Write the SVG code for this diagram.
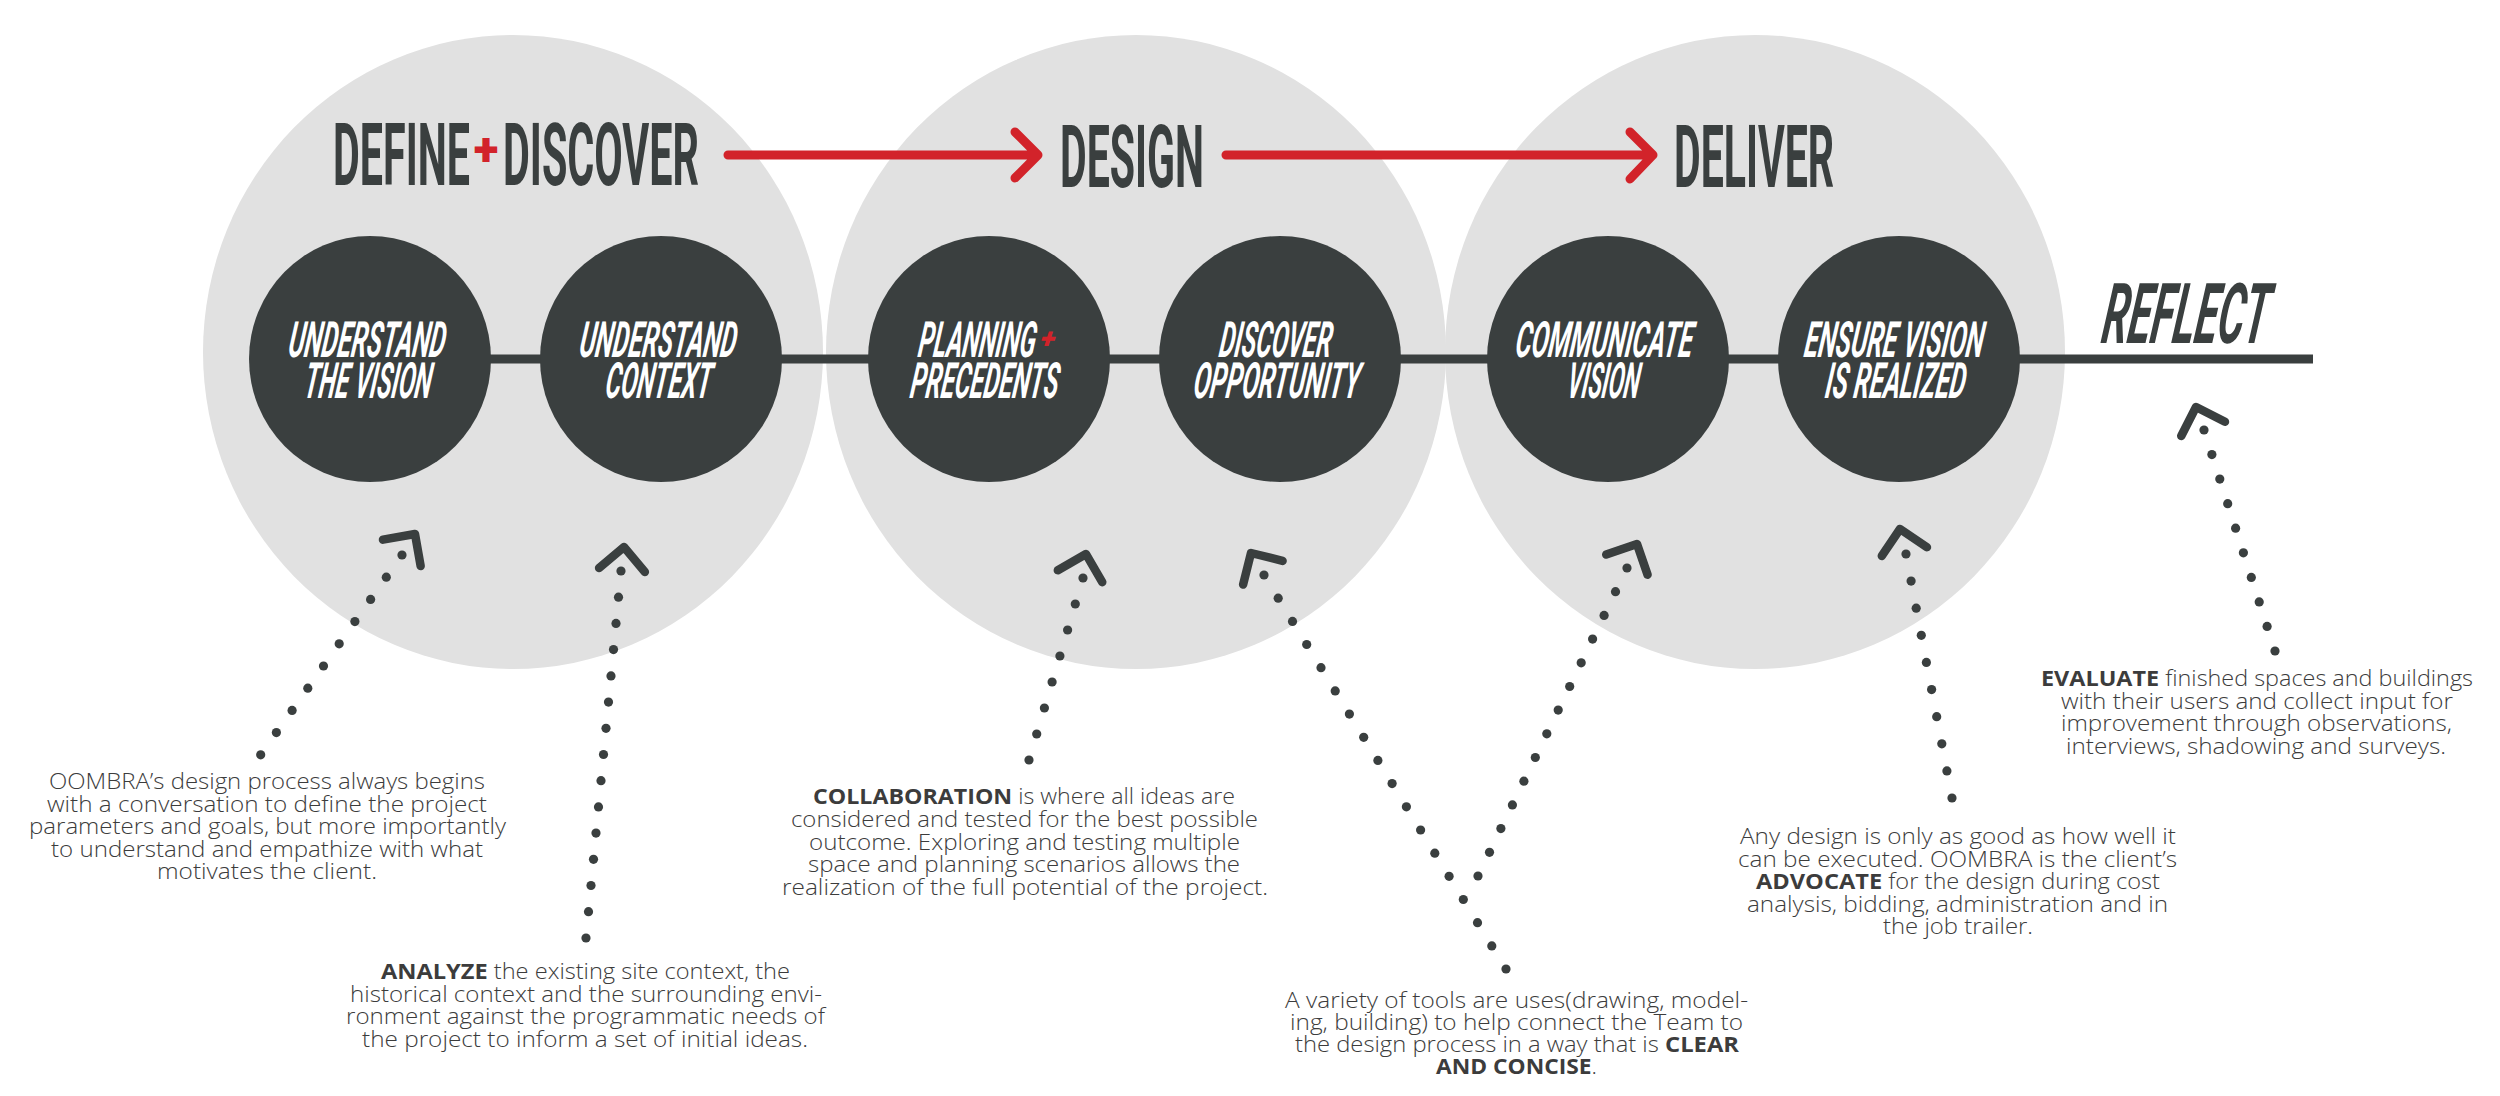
<svg xmlns="http://www.w3.org/2000/svg" xmlns:xlink="http://www.w3.org/1999/xlink" width="2500" height="1096" viewBox="0 0 2500 1096">
<defs>
<style>
.stage{fill:#e1e1e1}
.step{fill:#3a3f3f}
.title{font-family:Roboto,"Liberation Sans",sans-serif;font-weight:700;font-size:87px;fill:#3a3f3f}
.lbl{font-family:Roboto,"Liberation Sans",sans-serif;font-weight:700;font-style:italic;font-size:50px;fill:#ffffff}
.refl{font-family:Roboto,"Liberation Sans",sans-serif;font-weight:700;font-style:italic;font-size:84px;fill:#3a3f3f}
.plus{font-family:Roboto,"Liberation Sans",sans-serif;font-weight:900;fill:#d2232a}
.body{font-family:"Open Sans",Lato,"Liberation Sans",sans-serif;font-weight:300;font-size:21.5px;fill:#3c3c3c}
.b{font-weight:700}
.dot{fill:#3a3f3f}
.chev{fill:none;stroke:#3a3f3f;stroke-width:8.5;stroke-linecap:round;stroke-linejoin:round}
.red{fill:none;stroke:#d2232a;stroke-width:9;stroke-linecap:round;stroke-linejoin:round}
.axis{stroke:#3a3f3f;stroke-width:9}
</style>
<path id="chev" class="chev" d="M-23,23 L0,0 L23,23"/>
</defs>
<rect width="2500" height="1096" fill="#ffffff"/>

<g id="stages">
<g id="stage-define-discover">
<ellipse class="stage" cx="513" cy="352" rx="310" ry="317"/>
<text class="title" x="333" y="185" textLength="137" lengthAdjust="spacingAndGlyphs">DEFINE</text>
<text class="plus" x="486" y="165" font-size="46" text-anchor="middle">+</text>
<text class="title" x="503" y="185" textLength="196" lengthAdjust="spacingAndGlyphs">DISCOVER</text>
</g>
<g id="stage-design">
<ellipse class="stage" cx="1136" cy="352" rx="310" ry="317"/>
<text class="title" x="1060" y="187" textLength="144" lengthAdjust="spacingAndGlyphs">DESIGN</text>
</g>
<g id="stage-deliver">
<ellipse class="stage" cx="1755" cy="352" rx="310" ry="317"/>
<text class="title" x="1674" y="187" textLength="160" lengthAdjust="spacingAndGlyphs">DELIVER</text>
</g>
</g>

<g id="connectors">
<line id="timeline" class="axis" x1="370" y1="359" x2="2313" y2="359"/>
<g id="red-arrow-1">
<path class="red" d="M728,155 L1037,155 M1015,132 L1038,155 L1015,178"/>
</g>
<g id="red-arrow-2">
<path class="red" d="M1226,155 L1653,155 M1630,132 L1653,155 L1630,179"/>
</g>
<g id="arrow-1">
<use xlink:href="#chev" transform="translate(415,534) rotate(35)"/>
<circle class="dot" cx="402" cy="555" r="4.6"/><circle class="dot" cx="386.3" cy="577.2" r="4.6"/><circle class="dot" cx="370.6" cy="599.4" r="4.6"/><circle class="dot" cx="354.9" cy="621.6" r="4.6"/><circle class="dot" cx="339.2" cy="643.8" r="4.6"/><circle class="dot" cx="323.5" cy="666" r="4.6"/><circle class="dot" cx="307.8" cy="688.2" r="4.6"/><circle class="dot" cx="292.1" cy="710.4" r="4.6"/><circle class="dot" cx="276.4" cy="732.6" r="4.6"/><circle class="dot" cx="260.7" cy="754.8" r="4.6"/>
</g>
<g id="arrow-2">
<use xlink:href="#chev" transform="translate(624,547) rotate(5)"/>
<circle class="dot" cx="621" cy="571" r="4.6"/><circle class="dot" cx="618.5" cy="597.2" r="4.6"/><circle class="dot" cx="616" cy="623.4" r="4.6"/><circle class="dot" cx="613.5" cy="649.6" r="4.6"/><circle class="dot" cx="611" cy="675.9" r="4.6"/><circle class="dot" cx="608.5" cy="702.1" r="4.6"/><circle class="dot" cx="606" cy="728.3" r="4.6"/><circle class="dot" cx="603.5" cy="754.5" r="4.6"/><circle class="dot" cx="601" cy="780.7" r="4.6"/><circle class="dot" cx="598.5" cy="806.9" r="4.6"/><circle class="dot" cx="596" cy="833.1" r="4.6"/><circle class="dot" cx="593.5" cy="859.3" r="4.6"/><circle class="dot" cx="591" cy="885.5" r="4.6"/><circle class="dot" cx="588.5" cy="911.7" r="4.6"/><circle class="dot" cx="586" cy="938" r="4.6"/>
</g>
<g id="arrow-3">
<use xlink:href="#chev" transform="translate(1086,554) rotate(15)"/>
<circle class="dot" cx="1083" cy="578" r="4.6"/><circle class="dot" cx="1075.3" cy="604" r="4.6"/><circle class="dot" cx="1067.6" cy="630" r="4.6"/><circle class="dot" cx="1059.9" cy="656" r="4.6"/><circle class="dot" cx="1052.1" cy="682" r="4.6"/><circle class="dot" cx="1044.4" cy="708" r="4.6"/><circle class="dot" cx="1036.7" cy="734" r="4.6"/><circle class="dot" cx="1029" cy="760" r="4.6"/>
</g>
<g id="arrow-4">
<use xlink:href="#chev" transform="translate(1251,553) rotate(-31)"/>
<circle class="dot" cx="1264" cy="575" r="4.6"/><circle class="dot" cx="1278.2" cy="598.2" r="4.6"/><circle class="dot" cx="1292.5" cy="621.4" r="4.6"/><circle class="dot" cx="1306.7" cy="644.5" r="4.6"/><circle class="dot" cx="1321" cy="667.7" r="4.6"/><circle class="dot" cx="1335.2" cy="690.9" r="4.6"/><circle class="dot" cx="1349.4" cy="714.1" r="4.6"/><circle class="dot" cx="1363.7" cy="737.3" r="4.6"/><circle class="dot" cx="1377.9" cy="760.4" r="4.6"/><circle class="dot" cx="1392.1" cy="783.6" r="4.6"/><circle class="dot" cx="1406.4" cy="806.8" r="4.6"/><circle class="dot" cx="1420.6" cy="830" r="4.6"/><circle class="dot" cx="1434.8" cy="853.2" r="4.6"/><circle class="dot" cx="1449.1" cy="876.3" r="4.6"/><circle class="dot" cx="1463.3" cy="899.5" r="4.6"/><circle class="dot" cx="1477.5" cy="922.7" r="4.6"/><circle class="dot" cx="1491.8" cy="945.9" r="4.6"/><circle class="dot" cx="1506" cy="969" r="4.6"/>
</g>
<g id="arrow-5">
<use xlink:href="#chev" transform="translate(1637,544) rotate(26)"/>
<circle class="dot" cx="1627" cy="568" r="4.6"/><circle class="dot" cx="1615.5" cy="591.7" r="4.6"/><circle class="dot" cx="1604.1" cy="615.4" r="4.6"/><circle class="dot" cx="1592.6" cy="639.1" r="4.6"/><circle class="dot" cx="1581.2" cy="662.8" r="4.6"/><circle class="dot" cx="1569.7" cy="686.5" r="4.6"/><circle class="dot" cx="1558.2" cy="710.1" r="4.6"/><circle class="dot" cx="1546.8" cy="733.8" r="4.6"/><circle class="dot" cx="1535.3" cy="757.5" r="4.6"/><circle class="dot" cx="1523.9" cy="781.2" r="4.6"/><circle class="dot" cx="1512.4" cy="804.9" r="4.6"/><circle class="dot" cx="1500.9" cy="828.6" r="4.6"/><circle class="dot" cx="1489.5" cy="852.3" r="4.6"/><circle class="dot" cx="1478" cy="876" r="4.6"/>
</g>
<g id="arrow-6">
<use xlink:href="#chev" transform="translate(1900,529) rotate(-11)"/>
<circle class="dot" cx="1906" cy="554" r="4.6"/><circle class="dot" cx="1911.1" cy="581.1" r="4.6"/><circle class="dot" cx="1916.2" cy="608.2" r="4.6"/><circle class="dot" cx="1921.3" cy="635.3" r="4.6"/><circle class="dot" cx="1926.4" cy="662.4" r="4.6"/><circle class="dot" cx="1931.6" cy="689.6" r="4.6"/><circle class="dot" cx="1936.7" cy="716.7" r="4.6"/><circle class="dot" cx="1941.8" cy="743.8" r="4.6"/><circle class="dot" cx="1946.9" cy="770.9" r="4.6"/><circle class="dot" cx="1952" cy="798" r="4.6"/>
</g>
<g id="arrow-7">
<use xlink:href="#chev" transform="translate(2196,407) rotate(-18)"/>
<circle class="dot" cx="2204" cy="430" r="4.6"/><circle class="dot" cx="2211.9" cy="454.6" r="4.6"/><circle class="dot" cx="2219.8" cy="479.1" r="4.6"/><circle class="dot" cx="2227.7" cy="503.7" r="4.6"/><circle class="dot" cx="2235.6" cy="528.2" r="4.6"/><circle class="dot" cx="2243.4" cy="552.8" r="4.6"/><circle class="dot" cx="2251.3" cy="577.4" r="4.6"/><circle class="dot" cx="2259.2" cy="601.9" r="4.6"/><circle class="dot" cx="2267.1" cy="626.4" r="4.6"/><circle class="dot" cx="2275" cy="651" r="4.6"/>
</g>
</g>

<g id="steps">
<g id="step-understand-vision">
<ellipse class="step" cx="370" cy="359" rx="121" ry="123"/>
<text class="lbl" transform="translate(287,357) skewX(-8)" textLength="157" lengthAdjust="spacingAndGlyphs">UNDERSTAND</text>
<text class="lbl" transform="translate(303,398) skewX(-8)" textLength="127" lengthAdjust="spacingAndGlyphs">THE VISION</text>
</g>
<g id="step-understand-context">
<ellipse class="step" cx="661" cy="359" rx="121" ry="123"/>
<text class="lbl" transform="translate(578,357) skewX(-8)" textLength="157" lengthAdjust="spacingAndGlyphs">UNDERSTAND</text>
<text class="lbl" transform="translate(604,398) skewX(-8)" textLength="106" lengthAdjust="spacingAndGlyphs">CONTEXT</text>
</g>
<g id="step-planning-precedents">
<ellipse class="step" cx="989" cy="359" rx="121" ry="123"/>
<text class="lbl" transform="translate(917,357) skewX(-8)" textLength="117" lengthAdjust="spacingAndGlyphs">PLANNING</text>
<text class="plus" transform="translate(1047,348) skewX(-8)" font-size="28" font-style="italic" text-anchor="middle">+</text>
<text class="lbl" transform="translate(909,398) skewX(-8)" textLength="148" lengthAdjust="spacingAndGlyphs">PRECEDENTS</text>
</g>
<g id="step-discover-opportunity">
<ellipse class="step" cx="1280" cy="359" rx="121" ry="123"/>
<text class="lbl" transform="translate(1218,357) skewX(-8)" textLength="112" lengthAdjust="spacingAndGlyphs">DISCOVER</text>
<text class="lbl" transform="translate(1192,398) skewX(-8)" textLength="166" lengthAdjust="spacingAndGlyphs">OPPORTUNITY</text>
</g>
<g id="step-communicate-vision">
<ellipse class="step" cx="1608" cy="359" rx="121" ry="123"/>
<text class="lbl" transform="translate(1514,357) skewX(-8)" textLength="177" lengthAdjust="spacingAndGlyphs">COMMUNICATE</text>
<text class="lbl" transform="translate(1566,398) skewX(-8)" textLength="72" lengthAdjust="spacingAndGlyphs">VISION</text>
</g>
<g id="step-ensure-vision">
<ellipse class="step" cx="1899" cy="359" rx="121" ry="123"/>
<text class="lbl" transform="translate(1803,357) skewX(-8)" textLength="179" lengthAdjust="spacingAndGlyphs">ENSURE VISION</text>
<text class="lbl" transform="translate(1824,398) skewX(-8)" textLength="140" lengthAdjust="spacingAndGlyphs">IS REALIZED</text>
</g>
<g id="step-reflect">
<text class="refl" transform="translate(2100,343) skewX(-8)" textLength="166" lengthAdjust="spacingAndGlyphs">REFLECT</text>
</g>
</g>

<g id="notes">
<g id="note-define">
<text class="body" x="49" y="789" textLength="436" lengthAdjust="spacingAndGlyphs">OOMBRA’s design process always begins</text>
<text class="body" x="47" y="811.5" textLength="440" lengthAdjust="spacingAndGlyphs">with a conversation to define the project</text>
<text class="body" x="29" y="834" textLength="477" lengthAdjust="spacingAndGlyphs">parameters and goals, but more importantly</text>
<text class="body" x="51" y="856.5" textLength="432" lengthAdjust="spacingAndGlyphs">to understand and empathize with what</text>
<text class="body" x="157" y="879" textLength="220" lengthAdjust="spacingAndGlyphs">motivates the client.</text>
</g>
<g id="note-analyze">
<text class="body" x="381" y="979" textLength="409" lengthAdjust="spacingAndGlyphs"><tspan class="b">ANALYZE</tspan> the existing site context, the</text>
<text class="body" x="350" y="1001.5" textLength="472" lengthAdjust="spacingAndGlyphs">historical context and the surrounding envi-</text>
<text class="body" x="346" y="1024" textLength="479" lengthAdjust="spacingAndGlyphs">ronment against the programmatic needs of</text>
<text class="body" x="362" y="1046.5" textLength="446" lengthAdjust="spacingAndGlyphs">the project to inform a set of initial ideas.</text>
</g>
<g id="note-collaboration">
<text class="body" x="813" y="804" textLength="422" lengthAdjust="spacingAndGlyphs"><tspan class="b">COLLABORATION</tspan> is where all ideas are</text>
<text class="body" x="791" y="826.8" textLength="467" lengthAdjust="spacingAndGlyphs">considered and tested for the best possible</text>
<text class="body" x="809" y="849.6" textLength="431" lengthAdjust="spacingAndGlyphs">outcome. Exploring and testing multiple</text>
<text class="body" x="808" y="872.4" textLength="432" lengthAdjust="spacingAndGlyphs">space and planning scenarios allows the</text>
<text class="body" x="782" y="895.2" textLength="486" lengthAdjust="spacingAndGlyphs">realization of the full potential of the project.</text>
</g>
<g id="note-tools">
<text class="body" x="1285" y="1008" textLength="463" lengthAdjust="spacingAndGlyphs">A variety of tools are uses(drawing, model-</text>
<text class="body" x="1290" y="1030" textLength="453" lengthAdjust="spacingAndGlyphs">ing, building) to help connect the Team to</text>
<text class="body" x="1295" y="1052" textLength="444" lengthAdjust="spacingAndGlyphs">the design process in a way that is <tspan class="b">CLEAR</tspan></text>
<text class="body" x="1436" y="1074" textLength="161" lengthAdjust="spacingAndGlyphs"><tspan class="b">AND CONCISE</tspan>.</text>
</g>
<g id="note-advocate">
<text class="body" x="1740" y="844" textLength="436" lengthAdjust="spacingAndGlyphs">Any design is only as good as how well it</text>
<text class="body" x="1738" y="866.5" textLength="439" lengthAdjust="spacingAndGlyphs">can be executed. OOMBRA is the client’s</text>
<text class="body" x="1756" y="889" textLength="404" lengthAdjust="spacingAndGlyphs"><tspan class="b">ADVOCATE</tspan> for the design during cost</text>
<text class="body" x="1747" y="911.5" textLength="421" lengthAdjust="spacingAndGlyphs">analysis, bidding, administration and in</text>
<text class="body" x="1883" y="934" textLength="150" lengthAdjust="spacingAndGlyphs">the job trailer.</text>
</g>
<g id="note-evaluate">
<text class="body" x="2041" y="686" textLength="432" lengthAdjust="spacingAndGlyphs"><tspan class="b">EVALUATE</tspan> finished spaces and buildings</text>
<text class="body" x="2061" y="708.5" textLength="392" lengthAdjust="spacingAndGlyphs">with their users and collect input for</text>
<text class="body" x="2061" y="731" textLength="391" lengthAdjust="spacingAndGlyphs">improvement through observations,</text>
<text class="body" x="2066" y="753.5" textLength="380" lengthAdjust="spacingAndGlyphs">interviews, shadowing and surveys.</text>
</g>
</g>
</svg>
